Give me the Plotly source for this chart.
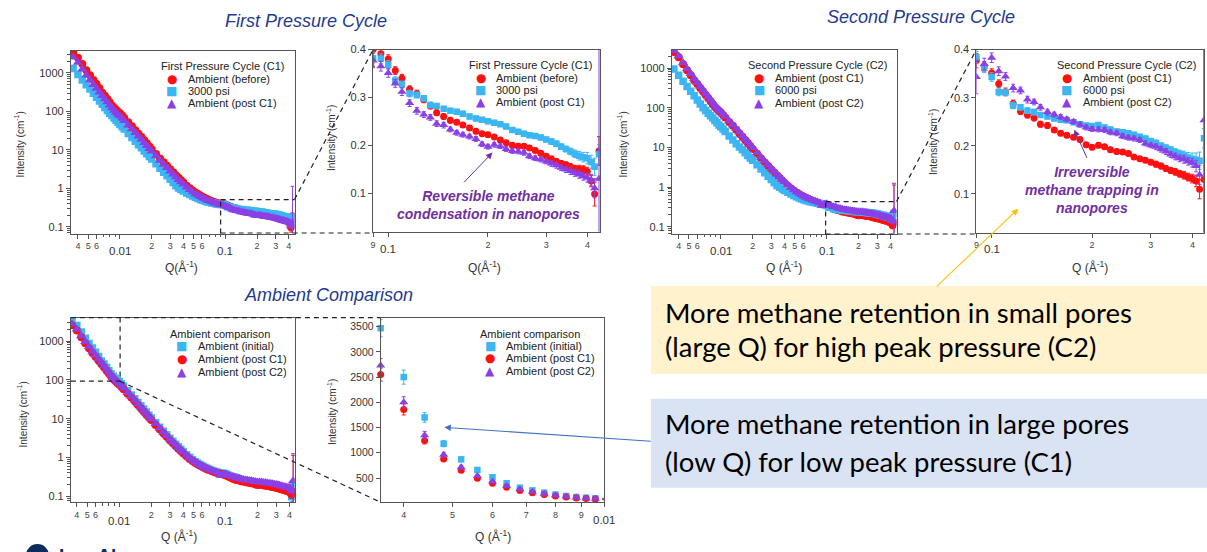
import math
import plotly.graph_objects as go

W, H = 1207, 552

# ---------------- scattering vector grids (1/Å) ----------------
Q_LOW = [0.0036, 0.0040, 0.0044, 0.0048, 0.0052, 0.0056, 0.0060, 0.0064, 0.0068,
         0.0072, 0.0076, 0.0080, 0.0084, 0.0088, 0.0092, 0.0096, 0.0100]
Q_MID = [0.0105, 0.011, 0.012, 0.013, 0.014, 0.015, 0.016, 0.017, 0.018, 0.019, 0.020,
         0.022, 0.024, 0.026, 0.028, 0.030, 0.032, 0.034, 0.036, 0.038, 0.040,
         0.043, 0.046, 0.049, 0.052, 0.055, 0.058, 0.061, 0.064, 0.067, 0.070,
         0.074, 0.078, 0.082, 0.086]
Q_HIGH = [0.090, 0.095, 0.100, 0.105, 0.110, 0.116, 0.122, 0.128, 0.134, 0.140,
          0.147, 0.154, 0.161, 0.168, 0.176, 0.184, 0.192, 0.200, 0.209, 0.218,
          0.227, 0.237, 0.247, 0.257, 0.267, 0.278, 0.289, 0.300, 0.311, 0.322,
          0.333, 0.344, 0.355, 0.366, 0.377, 0.388, 0.399, 0.410, 0.420, 0.433]

# ---------------- intensities (1/cm) ----------------
# Ambient, initial state (before any pressure cycle)
A0_LOW = [3470, 2500, 1700, 1180, 870, 660, 515, 398, 308, 255, 210, 172, 143, 124, 110, 98, 90]
A0_MID = [78, 68, 52, 41, 32.5, 26.2, 21.5, 17.8, 14.9, 12.3, 10.4,
          7.8, 6.0, 4.75, 3.85, 3.15, 2.62, 2.2, 1.88, 1.62, 1.42,
          1.18, 1.01, 0.88, 0.78, 0.71, 0.65, 0.60, 0.56, 0.53, 0.50,
          0.47, 0.445, 0.425, 0.41]
A0_HIGH = [0.400, 0.391, 0.380, 0.356, 0.340, 0.317, 0.308, 0.295, 0.282, 0.268,
           0.260, 0.252, 0.248, 0.242, 0.236, 0.229, 0.224, 0.222, 0.217, 0.211,
           0.205, 0.200, 0.198, 0.198, 0.194, 0.189, 0.183, 0.177, 0.171, 0.166,
           0.162, 0.159, 0.155, 0.151, 0.150, 0.149, 0.145, 0.125, 0.098, 0.188]

# 3000 psi methane
P3_LOW = [1300, 910, 660, 495, 380, 295, 235, 188, 153, 127, 106, 90, 78, 67, 59, 52, 46]
P3_MID = [40, 34.7, 26.8, 21.1, 16.9, 13.7, 11.3, 9.4, 7.9, 6.7, 5.8,
          4.35, 3.36, 2.64, 2.12, 1.72, 1.42, 1.18, 1.03, 0.93, 0.85,
          0.76, 0.69, 0.63, 0.585, 0.545, 0.515, 0.49, 0.47, 0.45, 0.435,
          0.42, 0.41, 0.395, 0.388]
P3_HIGH = [0.382, 0.381, 0.368, 0.335, 0.327, 0.308, 0.305, 0.298, 0.284, 0.282,
           0.276, 0.272, 0.270, 0.266, 0.260, 0.256, 0.253, 0.250, 0.247, 0.244,
           0.239, 0.232, 0.228, 0.224, 0.221, 0.219, 0.216, 0.212, 0.208, 0.203,
           0.197, 0.192, 0.187, 0.182, 0.178, 0.175, 0.173, 0.165, 0.155, 0.181]

# Ambient after the first cycle
A1_LOW = [2550, 1860, 1245, 875, 655, 495, 395, 315, 255, 210, 175, 145, 122, 105, 93, 83, 76]
A1_MID = [66, 57, 44, 35, 28, 22.6, 18.6, 15.4, 12.9, 10.8, 9.2,
          6.9, 5.3, 4.2, 3.42, 2.8, 2.34, 1.97, 1.69, 1.46, 1.28,
          1.07, 0.92, 0.81, 0.72, 0.66, 0.61, 0.565, 0.53, 0.50, 0.475,
          0.45, 0.425, 0.405, 0.39]
A1_HIGH = [0.377, 0.365, 0.351, 0.329, 0.312, 0.288, 0.272, 0.264, 0.258, 0.245,
           0.242, 0.233, 0.226, 0.222, 0.218, 0.213, 0.202, 0.197, 0.201, 0.198,
           0.192, 0.188, 0.187, 0.184, 0.177, 0.173, 0.170, 0.166, 0.162, 0.158,
           0.153, 0.149, 0.146, 0.142, 0.139, 0.135, 0.132, 0.127, 0.110, 0.130]

# 6000 psi methane
P6_LOW = [950, 655, 467, 344, 260, 200, 157, 124, 100, 85, 73, 63, 55, 48, 42, 37, 33]
P6_MID = [29, 25.1, 19.5, 15.5, 12.4, 10.3, 8.7, 7.4, 6.3, 5.45, 4.73,
          3.66, 2.88, 2.3, 1.87, 1.55, 1.3, 1.1, 0.99, 0.90, 0.82,
          0.74, 0.67, 0.615, 0.57, 0.535, 0.505, 0.48, 0.46, 0.445, 0.43,
          0.415, 0.405, 0.395, 0.388]
P6_HIGH = [0.384, 0.362, 0.343, 0.312, 0.311, 0.284, 0.280, 0.273, 0.270, 0.264,
           0.261, 0.257, 0.254, 0.253, 0.249, 0.245, 0.242, 0.241, 0.243, 0.238,
           0.234, 0.230, 0.228, 0.226, 0.223, 0.219, 0.215, 0.210, 0.206, 0.200,
           0.196, 0.192, 0.187, 0.183, 0.180, 0.176, 0.173, 0.171, 0.169, 0.216]

# Ambient after the second cycle
A2_LOW = [2730, 2000, 1350, 960, 715, 540, 430, 345, 278, 228, 190, 158, 133, 114, 100, 89, 81]
A2_MID = [70, 60.5, 46.5, 37, 29.6, 24, 19.7, 16.3, 13.7, 11.5, 9.8,
          7.35, 5.65, 4.47, 3.63, 2.97, 2.48, 2.09, 1.79, 1.55, 1.36,
          1.13, 0.97, 0.85, 0.76, 0.69, 0.635, 0.59, 0.55, 0.52, 0.495,
          0.465, 0.44, 0.42, 0.40]
A2_HIGH = [0.343, 0.370, 0.383, 0.355, 0.344, 0.320, 0.315, 0.296, 0.291, 0.280,
           0.270, 0.265, 0.260, 0.255, 0.250, 0.244, 0.238, 0.235, 0.234, 0.233,
           0.228, 0.226, 0.220, 0.217, 0.215, 0.212, 0.205, 0.201, 0.198, 0.193,
           0.188, 0.182, 0.178, 0.174, 0.172, 0.168, 0.165, 0.158, 0.140, 0.253]

# ---------------- uncertainties ----------------
A0_ELOW = [170, 140, 95, 60, 45, 35, 28, 22, 18, 15, 13, 11, 10, 9, 8, 8, 7]
A1_ELOW = [130, 110, 70, 45, 35, 27, 22, 18, 15, 12, 10, 9, 8, 7, 7, 6, 6]
A2_ELOW = [140, 110, 75, 50, 38, 30, 24, 19, 16, 13, 11, 10, 9, 8, 7, 7, 6]
P3_ELOW = [70, 50, 36, 27, 21, 16, 13, 10, 8, 7, 6, 5, 4, 4, 3, 3, 3]
P6_ELOW = [50, 36, 26, 19, 14, 11, 9, 7, 6, 5, 4, 4, 3, 3, 3, 2, 2]

A0_EHIGH = [0.035, 0.010, 0.009, 0.008, 0.008, 0.007, 0.007, 0.006, 0.006, 0.006,
            0.006, 0.006, 0.005, 0.005, 0.005, 0.005, 0.005, 0.005, 0.005, 0.005,
            0.005, 0.005, 0.005, 0.005, 0.005, 0.005, 0.005, 0.005, 0.006, 0.006,
            0.006, 0.006, 0.007, 0.007, 0.008, 0.008, 0.009, 0.012, 0.025, 0.030]
P3_EHIGH = [0.012, 0.010, 0.009, 0.008, 0.007, 0.007, 0.006, 0.006, 0.006, 0.005,
            0.005, 0.005, 0.005, 0.005, 0.005, 0.005, 0.005, 0.005, 0.005, 0.005,
            0.005, 0.005, 0.005, 0.005, 0.005, 0.005, 0.005, 0.005, 0.006, 0.006,
            0.006, 0.006, 0.007, 0.008, 0.009, 0.010, 0.012, 0.014, 0.018, 0.020]
A1_EHIGH = [0.015, 0.010, 0.009, 0.008, 0.008, 0.007, 0.007, 0.006, 0.006, 0.006,
            0.006, 0.005, 0.005, 0.005, 0.005, 0.005, 0.005, 0.005, 0.005, 0.005,
            0.005, 0.005, 0.005, 0.005, 0.005, 0.005, 0.005, 0.005, 0.006, 0.006,
            0.006, 0.006, 0.007, 0.007, 0.008, 0.008, 0.009, 0.012, 0.020, 1.000]
P6_EHIGH = [0.012, 0.010, 0.009, 0.008, 0.007, 0.007, 0.006, 0.006, 0.006, 0.005,
            0.005, 0.005, 0.005, 0.005, 0.005, 0.005, 0.005, 0.005, 0.005, 0.005,
            0.005, 0.005, 0.005, 0.005, 0.005, 0.005, 0.005, 0.005, 0.006, 0.006,
            0.006, 0.006, 0.007, 0.008, 0.009, 0.010, 0.012, 0.014, 0.018, 0.020]
A2_EHIGH = [0.035, 0.012, 0.010, 0.009, 0.008, 0.008, 0.007, 0.007, 0.006, 0.006,
            0.006, 0.005, 0.005, 0.005, 0.005, 0.005, 0.005, 0.005, 0.005, 0.005,
            0.005, 0.005, 0.005, 0.005, 0.005, 0.005, 0.005, 0.005, 0.006, 0.006,
            0.006, 0.006, 0.007, 0.007, 0.008, 0.008, 0.009, 0.012, 0.020, 1.000]
# lower half of the wide bar on the last point of the two ambient re-runs
A1_LAST_MINUS = 0.125
A2_LAST_MINUS = 0.240

# ---------------- styling ----------------
RED = "#FF1010"
BLUE = "#3BB6F2"
PURPLE = "#8A40E6"
AXIS = "#555555"
TICK_TXT = "#333333"
TITLE_BLUE = "#1F3A8F"
NOTE_PURPLE = "#7030A0"
FONT = "Liberation Sans, Arial, sans-serif"


def fx(x):
    return x / W


def fy(y):
    return 1 - y / H


def series(low, mid, high, elow, ehigh, last_minus=None):
    q = Q_LOW + Q_MID + Q_HIGH
    i = low + mid + high
    ep = elow + [0] * len(Q_MID) + ehigh
    em = list(ep)
    if last_minus is not None:
        em[-1] = last_minus
    return dict(q=q, i=i, ep=ep, em=em,
                low=dict(q=Q_LOW, i=low, ep=elow, em=elow),
                high=dict(q=Q_HIGH, i=high, ep=ehigh,
                          em=ehigh[:-1] + [last_minus if last_minus is not None else ehigh[-1]]))


S_A0 = series(A0_LOW, A0_MID, A0_HIGH, A0_ELOW, A0_EHIGH)
S_P3 = series(P3_LOW, P3_MID, P3_HIGH, P3_ELOW, P3_EHIGH)
S_A1 = series(A1_LOW, A1_MID, A1_HIGH, A1_ELOW, A1_EHIGH, A1_LAST_MINUS)
S_P6 = series(P6_LOW, P6_MID, P6_HIGH, P6_ELOW, P6_EHIGH)
S_A2 = series(A2_LOW, A2_MID, A2_HIGH, A2_ELOW, A2_EHIGH, A2_LAST_MINUS)

MARK = {"circle": 7, "square": 6.5, "triangle-up": 8}

fig = go.Figure()


def add(n, d, color, symbol, clip=True, grow=0.0):
    xa = "x" if n == 1 else f"x{n}"
    ya = "y" if n == 1 else f"y{n}"
    fig.add_trace(go.Scatter(
        x=d["q"], y=d["i"], xaxis=xa, yaxis=ya, mode="markers",
        marker=dict(color=color, symbol=symbol, size=MARK[symbol] + grow, line=dict(width=0)),
        error_y=dict(type="data", symmetric=False, array=d["ep"], arrayminus=d["em"],
                     color=color, thickness=1, width=2),
        cliponaxis=clip, showlegend=False, hoverinfo="skip"))


# panel 1: first pressure cycle, full range
add(1, S_A0, RED, "circle", grow=1)
add(1, S_P3, BLUE, "square", grow=1)
add(1, S_A1, PURPLE, "triangle-up", grow=1)
# panel 2: first pressure cycle, high-Q detail
add(2, S_A0["high"], RED, "circle")
add(2, S_P3["high"], BLUE, "square")
add(2, S_A1["high"], PURPLE, "triangle-up")
# panel 3: second pressure cycle, full range
add(3, S_A1, RED, "circle", grow=1)
add(3, S_P6, BLUE, "square", grow=1)
add(3, S_A2, PURPLE, "triangle-up", grow=1)
# panel 4: second pressure cycle, high-Q detail
add(4, S_A1["high"], RED, "circle")
add(4, S_P6["high"], BLUE, "square")
add(4, S_A2["high"], PURPLE, "triangle-up")
# panel 5: ambient comparison, full range
add(5, S_A0, BLUE, "square", grow=1)
add(5, S_A1, RED, "circle", grow=1)
add(5, S_A2, PURPLE, "triangle-up", grow=1)
# panel 6: ambient comparison, low-Q detail (linear intensity)
add(6, S_A0["low"], BLUE, "square", clip=False)
add(6, S_A1["low"], RED, "circle", clip=False)
add(6, S_A2["low"], PURPLE, "triangle-up", clip=False)

# ---------------- axes ----------------
# plot boxes in page pixels: (left, right, top, bottom)
BOX = {1: (69, 293, 45, 230), 2: (371.7, 599, 44, 228.3), 3: (671, 896, 44, 230),
       4: (976, 1204, 44, 229), 5: (69, 293.3, 315, 501.7), 6: (379.3, 603.3, 315, 501.7)}
XRANGE = {1: [-2.465, -0.344], 2: [-1.0458, -0.3605], 3: [-2.462, -0.340],
          4: [-1.0458, -0.3635], 5: [-2.454, -0.348], 6: [-2.4437, -2.0]}
YRANGE = {1: [-1.172, 3.583], 2: [0.019, 0.4], 3: [-1.167, 3.466],
          4: [0.02, 0.4], 5: [-1.153, 3.604], 6: [20, 3680]}

LOGX_VALS = [0.004, 0.005, 0.006, 0.02, 0.03, 0.04, 0.05, 0.06, 0.2, 0.3, 0.4, 0.01, 0.1]
LOGX_TEXT = ["4", "5", "6", "2", "3", "4", "5", "6", "2", "3", "4", "", ""]
LOGX_MINOR = [0.007, 0.008, 0.009, 0.07, 0.08, 0.09]
ZOOMX_VALS = [0.09, 0.2, 0.3, 0.4, 0.1]
ZOOMX_TEXT = ["9", "2", "3", "4", ""]
LINX_VALS = [0.004, 0.005, 0.006, 0.007, 0.008, 0.009, 0.01]
LINX_TEXT = ["4", "5", "6", "7", "8", "9", ""]
LOGY_VALS = [0.1, 1, 10, 100, 1000]
LOGY_TEXT = ["0.1", "1", "10", "100", "1000"]
LOGY_MINOR = [0.07, 0.08, 0.09, 0.2, 0.3, 0.4, 0.5, 0.6, 0.7, 0.8, 0.9,
              2, 3, 4, 5, 6, 7, 8, 9, 20, 30, 40, 50, 60, 70, 80, 90,
              200, 300, 400, 500, 600, 700, 800, 900, 2000, 3000]
ZOOMY_VALS = [0.1, 0.2, 0.3, 0.4]
LINY_VALS = [500, 1000, 1500, 2000, 2500, 3000, 3500]

base = dict(showline=True, linecolor=AXIS, linewidth=1, mirror=True, ticks="outside",
            tickcolor=AXIS, tickwidth=1, showgrid=False, zeroline=False, fixedrange=True)

layout_axes = {}
for n in range(1, 7):
    l, r, t, b = BOX[n]
    xk = "xaxis" if n == 1 else f"xaxis{n}"
    yk = "yaxis" if n == 1 else f"yaxis{n}"
    xid = "x" if n == 1 else f"x{n}"
    yid = "y" if n == 1 else f"y{n}"
    xa = dict(base, domain=[fx(l), fx(r)], range=XRANGE[n], anchor=yid, type="log",
              tickmode="array", ticklen=4, tickfont=dict(size=9, color="#444444", family=FONT))
    ya = dict(base, domain=[fy(b), fy(t)], range=YRANGE[n], anchor=xid, tickmode="array",
              ticklen=4, tickfont=dict(size=11, color=TICK_TXT, family=FONT))
    if n in (1, 3, 5):
        xa.update(tickvals=LOGX_VALS, ticktext=LOGX_TEXT,
                  minor=dict(tickmode="array", tickvals=LOGX_MINOR, ticks="outside",
                             ticklen=2.5, tickcolor=AXIS))
        ya.update(type="log", tickvals=LOGY_VALS, ticktext=LOGY_TEXT,
                  minor=dict(tickmode="array", tickvals=LOGY_MINOR, ticks="outside",
                             ticklen=2.5, tickcolor=AXIS))
    elif n in (2, 4):
        xa.update(tickvals=ZOOMX_VALS, ticktext=ZOOMX_TEXT)
        ya.update(type="linear", tickvals=ZOOMY_VALS, ticktext=[f"{v:.1f}" for v in ZOOMY_VALS])
    else:
        xa.update(tickvals=LINX_VALS, ticktext=LINX_TEXT)
        ya.update(type="linear", tickvals=LINY_VALS, ticktext=[str(v) for v in LINY_VALS],
                  tickfont=dict(size=10.5, color=TICK_TXT, family=FONT))
    layout_axes[xk] = xa
    layout_axes[yk] = ya

# ---------------- annotations ----------------
ann = []


def text(x, y, s, size=11, color=TICK_TXT, xanchor="center", yanchor="middle",
         angle=0, family=FONT, **kw):
    ann.append(dict(x=fx(x), y=fy(y), xref="paper", yref="paper", text=s, showarrow=False,
                    xanchor=xanchor, yanchor=yanchor, textangle=angle,
                    font=dict(size=size, color=color, family=family), **kw))


# decade labels sit below the single-digit tick labels
for n, vals, ypix in [(1, [0.01, 0.1], 248), (3, [0.01, 0.1], 248), (5, [0.01, 0.1], 520.5),
                      (2, [0.1], 246), (4, [0.1], 246), (6, [0.01], 520)]:
    xid = "x" if n == 1 else f"x{n}"
    for v in vals:
        ann.append(dict(x=math.log10(v), y=fy(ypix), xref=xid, yref="paper",
                        text=f"{v:g}", showarrow=False, xanchor="center", yanchor="middle",
                        font=dict(size=11.5, color=TICK_TXT, family=FONT)))

# axis titles
YT = "Intensity (cm<sup>-1</sup>)"
for x, y in [(18, 140), (329, 133), (622, 140), (932, 137), (20, 413), (330, 410)]:
    text(x, y, YT, size=10, angle=-90)
for x, y, s in [(180, 264, "Q(Å<sup>-1</sup>)"), (483, 264, "Q(Å<sup>-1</sup>)"),
                (783, 264, "Q (Å<sup>-1</sup>)"), (1090, 264, "Q (Å<sup>-1</sup>)"),
                (177, 536, "Q (Å<sup>-1</sup>)"), (492, 536, "Q (Å<sup>-1</sup>)")]:
    text(x, y, s, size=12)

# panel titles
for x, y, s in [(305, 15, "First Pressure Cycle"), (921, 11, "Second Pressure Cycle"),
                (327, 292, "Ambient Comparison")]:
    text(x, y, f"<i>{s}</i>", size=18, color=TITLE_BLUE)

# in-plot legends
LEGENDS = [
    ("First Pressure Cycle (C1)", 157.3, 60.7, 170, 184.3, [73.3, 85.6, 98.0],
     [("●", RED, "Ambient (before)"), ("■", BLUE, "3000 psi"), ("▲", PURPLE, "Ambient (post C1)")]),
    ("First Pressure Cycle (C1)", 465.7, 59.3, 479.3, 492.7, [72.3, 84.5, 96.7],
     [("●", RED, "Ambient (before)"), ("■", BLUE, "3000 psi"), ("▲", PURPLE, "Ambient (post C1)")]),
    ("Second Pressure Cycle (C2)", 745, 60.0, 758.3, 772.3, [72.7, 85.0, 97.7],
     [("●", RED, "Ambient (post C1)"), ("■", BLUE, "6000 psi"), ("▲", PURPLE, "Ambient (post C2)")]),
    ("Second Pressure Cycle (C2)", 1054.3, 59.3, 1066.7, 1081, [72.3, 84.5, 96.7],
     [("●", RED, "Ambient (post C1)"), ("■", BLUE, "6000 psi"), ("▲", PURPLE, "Ambient (post C2)")]),
    ("Ambient comparison", 166.7, 331.7, 180, 194.3, [344.0, 357.0, 370.0],
     [("■", BLUE, "Ambient (initial)"), ("●", RED, "Ambient (post C1)"), ("▲", PURPLE, "Ambient (post C2)")]),
    ("Ambient comparison", 476.7, 331.7, 489.3, 503.3, [343.3, 356.3, 369.3],
     [("■", BLUE, "Ambient (initial)"), ("●", RED, "Ambient (post C1)"), ("▲", PURPLE, "Ambient (post C2)")]),
]
for title, tx, ty, sx, lx, rows, items in LEGENDS:
    text(tx, ty, title, size=11, color="#222222", xanchor="left")
    for (sym, col, lab), ry in zip(items, rows):
        text(sx, ry, sym, size=12, color=col, family="DejaVu Sans")
        text(lx, ry, lab, size=11, color="#222222", xanchor="left")

# purple notes and their arrows
text(487, 201.5, "<b><i>Reversible methane<br>condensation in nanopores</i></b>",
     size=14, color=NOTE_PURPLE)
text(1092, 186, "<b><i>Irreversible<br>methane trapping in<br>nanopores</i></b>",
     size=14, color=NOTE_PURPLE)
ann.append(dict(x=math.log10(0.2064), y=0.1846, xref="x2", yref="y2",
                ax=math.log10(0.1676), ay=0.1192, axref="x2", ayref="y2", text="",
                showarrow=True, arrowhead=2, arrowsize=1.3, arrowwidth=1, arrowcolor=NOTE_PURPLE))
ann.append(dict(x=math.log10(0.1768), y=0.2334, xref="x4", yref="y4",
                ax=math.log10(0.1939), ay=0.1718, axref="x4", ayref="y4", text="",
                showarrow=True, arrowhead=2, arrowsize=1.3, arrowwidth=1, arrowcolor=NOTE_PURPLE))

# callout arrows
ann.append(dict(x=fx(1018), y=fy(205), xref="paper", yref="paper", ax=-83, ay=79, text="",
                showarrow=True, arrowhead=2, arrowsize=1.2, arrowwidth=1.1, arrowcolor="#FFC000"))
ann.append(dict(x=fx(443), y=fy(426), xref="paper", yref="paper", ax=208, ay=14, text="",
                showarrow=True, arrowhead=2, arrowsize=1.2, arrowwidth=1.1, arrowcolor="#4472C4"))

# callout text
CALLOUT_FONT = "Lato, Carlito, sans-serif"
for y, s in [(310, "More methane retention in small pores"),
             (344, "(large Q) for high peak pressure (C2)"),
             (422, "More methane retention in large pores"),
             (460, "(low Q) for low peak pressure (C1)")]:
    text(662, y, s, size=27.5, color="#000000", xanchor="left", family=CALLOUT_FONT)

# footer (cut by the page edge)
text(55, 543, "<b>Los Alamos</b>", size=19, color="#0C2C5E", xanchor="left", yanchor="top")

# ---------------- shapes ----------------
shapes = []


def rect(x0, y0, x1, y1, fill):
    shapes.append(dict(type="rect", xref="paper", yref="paper", x0=fx(x0), x1=fx(x1),
                       y0=fy(y1), y1=fy(y0), fillcolor=fill, line=dict(width=0), layer="below"))


def dashed(x0, y0, x1, y1):
    shapes.append(dict(type="line", xref="paper", yref="paper", x0=fx(x0), x1=fx(x1),
                       y0=fy(y0), y1=fy(y1), line=dict(color="#222222", width=1.2, dash="5px,4px")))


rect(650, 283, 1207, 372, "#FFF2CC")
rect(650, 397, 1207, 487, "#DAE3F3")

# zoom region of panel 1 -> panel 2
dashed(219, 230, 219, 195.7)
dashed(219, 195.7, 293, 195.7)
dashed(219, 229.5, 371.7, 229.5)
dashed(293, 195.7, 371.7, 44)
# zoom region of panel 3 -> panel 4
dashed(825, 231, 825, 197.7)
dashed(825, 197.7, 896, 197.7)
dashed(825, 230.5, 976, 230.5)
dashed(896, 197.7, 976, 44)
# zoom region of panel 5 -> panel 6
dashed(69, 315, 379.3, 315)
dashed(118.3, 315, 118.3, 379.3)
dashed(69, 379.3, 118.3, 379.3)
dashed(118.3, 379.3, 379.3, 501.7)

# footer emblem
shapes.append(dict(type="circle", xref="paper", yref="paper", x0=fx(24), x1=fx(47),
                   y0=fy(567), y1=fy(544), fillcolor="#0C2C5E", line=dict(width=0)))

fig.update_layout(
    width=W, height=H, autosize=False,
    margin=dict(l=0, r=0, t=0, b=0, pad=0),
    paper_bgcolor="white", plot_bgcolor="white",
    font=dict(family=FONT, color=TICK_TXT),
    showlegend=False,
    annotations=ann, shapes=shapes,
    **layout_axes,
)

fig.write_html("out.html")
